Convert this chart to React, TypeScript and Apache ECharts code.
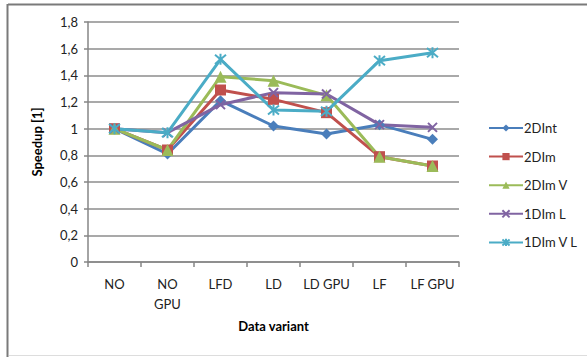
import React, { useEffect, useRef } from "react";
import * as echarts from "echarts";

const categories = ["NO", "NO\nGPU", "LFD", "LD", "LD GPU", "LF", "LF GPU"];
const yTicks = [0, 0.2, 0.4, 0.6, 0.8, 1, 1.2, 1.4, 1.6, 1.8];

const s2DInt = [1.0, 0.81, 1.21, 1.02, 0.96, 1.03, 0.92];
const s2DIm = [1.0, 0.84, 1.29, 1.22, 1.12, 0.79, 0.72];
const s2DImV = [1.0, 0.84, 1.39, 1.36, 1.25, 0.79, 0.72];
const s1DImL = [1.0, 0.97, 1.18, 1.27, 1.26, 1.03, 1.01];
const s1DImVL = [1.0, 0.97, 1.52, 1.14, 1.13, 1.51, 1.57];

const FONT = "Lato, 'Open Sans', sans-serif";

const crossSymbol = "path://M0,0 L10,10 M10,0 L0,10";
const starSymbol = "path://M0,0 L10,10 M10,0 L0,10 M5,-1 L5,11";

function lineSeries(name: string, data: number[], color: string, symbol: string, size: number, stroke = false) {
  return {
    name,
    type: "line",
    data,
    symbol,
    symbolSize: size,
    lineStyle: { color, width: 3 },
    itemStyle: stroke
      ? { color, borderColor: color, borderWidth: 2 }
      : { color, borderColor: color, borderWidth: 0 },
    z: 2,
  };
}

export default function App() {
  const ref = useRef<HTMLDivElement>(null);

  useEffect(() => {
    if (!ref.current) return;
    document.body.style.margin = "0";
    const chart = echarts.init(ref.current, undefined, { renderer: "svg" });
    chart.setOption({
      animation: false,
      backgroundColor: "#ffffff",
      textStyle: { fontFamily: FONT },
      grid: { left: 88, right: 128, top: 22, bottom: 95, containLabel: false },
      xAxis: {
        type: "category",
        data: categories,
        boundaryGap: true,
        name: "Data variant",
        nameLocation: "middle",
        nameGap: 57,
        nameTextStyle: { fontFamily: FONT, fontWeight: "bold", fontSize: 13, color: "#000" },
        axisLine: { lineStyle: { color: "#868686", width: 1.5 } },
        axisTick: { show: true, alignWithLabel: false, length: 5, lineStyle: { color: "#868686", width: 1.5 } },
        axisLabel: { fontFamily: FONT, fontSize: 13, color: "#222", margin: 12, lineHeight: 20, interval: 0 },
      },
      yAxis: {
        type: "value",
        min: 0,
        max: yTicks[yTicks.length - 1],
        interval: 0.2,
        name: "Speedup [1]",
        nameLocation: "middle",
        nameGap: 45,
        nameRotate: 90,
        nameTextStyle: { fontFamily: FONT, fontWeight: "bold", fontSize: 13, color: "#000" },
        axisLine: { show: true, lineStyle: { color: "#868686", width: 1.5 } },
        axisTick: { show: true, length: 4, lineStyle: { color: "#868686", width: 1.5 } },
        splitLine: { lineStyle: { color: "#8c8c8c", width: 1.5 } },
        axisLabel: {
          fontFamily: FONT,
          fontSize: 13,
          color: "#222",
          margin: 10,
          formatter: (v: number) => {
            const t = yTicks.find((x) => Math.abs(x - v) < 1e-6);
            const val = t === undefined ? v : t;
            return String(Math.round(val * 10) / 10).replace(".", ",");
          },
        },
      },
      legend: {
        orient: "vertical",
        left: 483,
        top: 116,
        itemWidth: 34,
        itemHeight: 9,
        itemGap: 14.6,
        textStyle: { fontFamily: FONT, fontSize: 13, color: "#222", lineHeight: 14, padding: [0, 0, 0, -4] },
        data: ["2DInt", "2DIm", "2DIm V", "1DIm L", "1DIm V L"],
      },
      graphic: [
        { type: "line", shape: { x1: 8, y1: 4.5, x2: 587, y2: 4.5 }, style: { stroke: "#7a7a7a", lineWidth: 2 } },
        { type: "line", shape: { x1: 7.5, y1: 4, x2: 7.5, y2: 357 }, style: { stroke: "#7a7a7a", lineWidth: 2 } },
        { type: "line", shape: { x1: 9, y1: 355.5, x2: 587, y2: 355.5 }, style: { stroke: "#dddddd", lineWidth: 1 } },
      ],
      series: [
        lineSeries("2DInt", s2DInt, "#4a7ebb", "diamond", 11),
        lineSeries("2DIm", s2DIm, "#c0504d", "rect", 11),
        lineSeries("2DIm V", s2DImV, "#9bbb59", "triangle", 12),
        lineSeries("1DIm L", s1DImL, "#8064a2", crossSymbol, 9, true),
        lineSeries("1DIm V L", s1DImVL, "#4bacc6", starSymbol, 11, true),
      ],
    });
    return () => chart.dispose();
  }, []);

  return <div ref={ref} style={{ width: 587, height: 357 }} />;
}
